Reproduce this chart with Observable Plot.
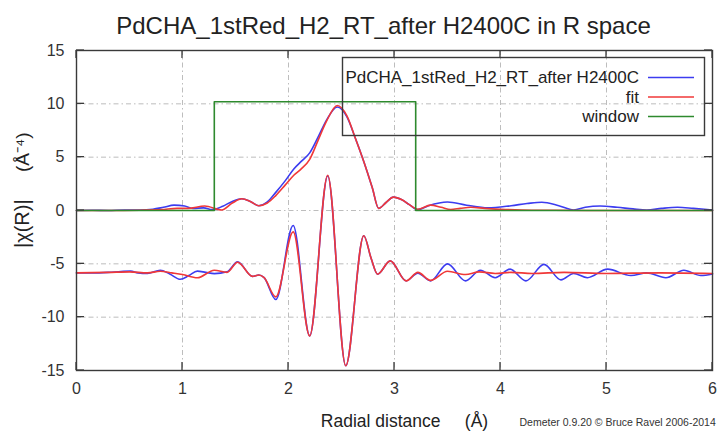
<!DOCTYPE html>
<html><head><meta charset="utf-8">
<script src="https://cdn.jsdelivr.net/npm/d3@7"></script>
<script src="https://cdn.jsdelivr.net/npm/@observablehq/plot@0.6"></script>
<style>
html,body{margin:0;padding:0;background:#fff;}
svg text{white-space:pre;}
</style></head><body><div id="chart"></div>
<script>
const title = "PdCHA_1stRed_H2_RT_after H2400C in R space";
const xLabel = "Radial distance     (Å)";
const yLabelMain = "|χ(R)|";
const yLabelUnit = "(Å⁻⁴)";
const footer = "Demeter 0.9.20 © Bruce Ravel 2006-2014";
const seriesNames = ["PdCHA_1stRed_H2_RT_after H2400C", "fit", "window"];
const seriesColors = ["#3c3cf0", "#f03838", "#2e8a2e"];
const xTicks = [0, 1, 2, 3, 4, 5, 6];
const yTicks = [-15, -10, -5, 0, 5, 10, 15];

// |chi(R)| of the data (blue, upper)
const rMagData = [0, 0.15, 0.3, 0.45, 0.6, 0.72, 0.82, 0.92, 1.02, 1.1, 1.2, 1.28, 1.38, 1.47, 1.56, 1.64, 1.72, 1.8, 1.88, 1.97, 2.05, 2.12, 2.2, 2.28, 2.36, 2.46, 2.55, 2.63, 2.71, 2.79, 2.85, 2.92, 2.99, 3.07, 3.14, 3.22, 3.32, 3.5, 3.68, 3.88, 4.1, 4.25, 4.39, 4.55, 4.69, 4.8, 4.94, 5.1, 5.25, 5.38, 5.52, 5.67, 5.82, 6.0];
const chiMagData = [0, 0.02, 0.0, 0.05, 0.05, 0.12, 0.3, 0.5, 0.42, 0.2, 0.25, 0.08, 0.4, 0.85, 1.1, 0.85, 0.45, 0.8, 1.7, 2.8, 3.9, 4.6, 5.4, 6.9, 8.5, 9.7, 8.8, 6.8, 4.6, 2.15, 0.2, 0.75, 1.25, 1.0, 0.55, 0.08, 0.45, 0.8, 0.5, 0.25, 0.45, 0.65, 0.78, 0.45, 0.05, 0.3, 0.42, 0.3, 0.15, 0.05, 0.2, 0.3, 0.2, 0.05];

// |chi(R)| of the fit (red, upper)
const rMagFit = [0, 0.3, 0.6, 0.8, 0.95, 1.05, 1.21, 1.37, 1.47, 1.56, 1.64, 1.72, 1.8, 1.88, 1.97, 2.05, 2.12, 2.2, 2.28, 2.36, 2.46, 2.55, 2.63, 2.71, 2.79, 2.85, 2.92, 2.99, 3.07, 3.14, 3.22, 3.34, 3.44, 3.53, 3.62, 3.72, 3.85, 4.0, 4.2, 4.5, 5.0, 6.0];
const chiMagFit = [0, 0.0, 0.03, 0.08, 0.2, 0.2, 0.42, 0.05, 0.7, 1.1, 0.85, 0.45, 0.7, 1.4, 2.4, 3.3, 3.9, 4.8, 6.6, 8.4, 9.85, 8.9, 6.8, 4.6, 2.15, 0.2, 0.75, 1.25, 1.0, 0.55, 0.12, 0.5, 0.3, 0.1, 0.2, 0.3, 0.2, 0.12, 0.05, 0.02, 0, 0];

// Fourier transform window (green)
const rWindow = [0, 1.3, 1.3, 3.2, 3.2, 6.0];
const window_ = [0, 0, 10.2, 10.2, 0, 0];

// Re[chi(R)] of the data, shifted (blue, lower)
const rReData = [0, 0.15, 0.3, 0.42, 0.51, 0.58, 0.67, 0.79, 0.88, 0.98, 1.06, 1.14, 1.22, 1.3, 1.42, 1.52, 1.66, 1.72, 1.77, 1.88, 2.044, 2.2, 2.37, 2.54, 2.71, 2.78, 2.84, 2.96, 3.11, 3.22, 3.34, 3.5, 3.67, 3.81, 3.95, 4.09, 4.24, 4.41, 4.57, 4.69, 4.82, 5.01, 5.23, 5.38, 5.56, 5.73, 5.89, 6.0];
const chiReData = [-5.85, -5.85, -5.8, -5.72, -5.68, -5.85, -5.9, -5.6, -5.95, -6.45, -6.1, -5.68, -5.8, -5.92, -5.75, -4.82, -6.18, -6.05, -6.3, -8.35, -1.4, -11.75, 3.25, -14.55, -2.37, -4.5, -5.97, -4.72, -6.6, -5.87, -6.6, -5.0, -6.6, -5.6, -6.3, -5.5, -6.6, -5.05, -6.5, -5.9, -6.3, -5.5, -6.1, -5.85, -6.3, -5.6, -6.1, -5.95];

// Re[chi(R)] of the fit, shifted (red, lower)
const rReFit = [0, 0.3, 0.5, 0.67, 0.79, 0.9, 1.0, 1.14, 1.3, 1.42, 1.52, 1.66, 1.72, 1.77, 1.88, 2.044, 2.2, 2.37, 2.54, 2.71, 2.78, 2.84, 2.96, 3.11, 3.22, 3.34, 3.5, 3.67, 3.8, 3.95, 4.1, 4.3, 4.6, 5.0, 5.5, 6.0];
const chiReFit = [-5.85, -5.8, -5.75, -5.85, -5.7, -5.85, -6.0, -6.3, -5.6, -5.8, -4.85, -6.18, -6.05, -6.3, -8.1, -2.0, -11.75, 3.3, -14.55, -2.37, -4.5, -5.97, -4.72, -6.6, -5.8, -6.55, -5.7, -6.0, -5.75, -5.9, -5.8, -5.9, -5.8, -5.9, -5.85, -5.9];

const toRows = (rs, vs) => rs.map((r, i) => ({r, v: vs[i]}));
const magData = toRows(rMagData, chiMagData);
const magFit = toRows(rMagFit, chiMagFit);
const win = toRows(rWindow, window_);
const reData = toRows(rReData, chiReData);
const reFit = toRows(rReFit, chiReFit);

const W = 722, H = 433, mT = 50, mB = 63, mL = 76, mR = 10;
const tickLen = 8;
const frameColor = "#3a3a3a";
const gridStyle = {stroke: "#bdbdbd", strokeOpacity: 1, strokeWidth: 1, strokeDasharray: "5,3,1.5,3"};
const lineW = 1.6;
const fmt = d => String(d);

const chart = Plot.plot({
  width: W, height: H,
  marginTop: mT, marginBottom: mB, marginLeft: mL, marginRight: mR,
  x: {domain: [0, 6], label: null},
  y: {domain: [-15, 15], label: null},
  style: {fontFamily: "'Liberation Sans', Arial, sans-serif", background: "#fff", overflow: "visible", color: "#333"},
  marks: [
    Plot.gridX(xTicks.slice(1, -1), gridStyle),
    Plot.gridY(yTicks.slice(1, -1), gridStyle),
    Plot.line(magData, {x: "r", y: "v", stroke: seriesColors[0], strokeWidth: lineW, curve: "monotone-x"}),
    Plot.line(magFit, {x: "r", y: "v", stroke: seriesColors[1], strokeWidth: lineW, curve: "monotone-x"}),
    Plot.line(win, {x: "r", y: "v", stroke: seriesColors[2], strokeWidth: lineW}),
    Plot.line(reData, {x: "r", y: "v", stroke: seriesColors[0], strokeWidth: lineW, curve: "monotone-x"}),
    Plot.line(reFit, {x: "r", y: "v", stroke: seriesColors[1], strokeWidth: lineW, curve: "monotone-x"}),
    Plot.frame({stroke: frameColor, strokeWidth: 1.4}),
    Plot.axisX(xTicks, {anchor: "bottom", tickSize: 0, tickPadding: 12, tickFormat: fmt, fontSize: 16, fill: "#333", label: null}),
    Plot.axisY(yTicks, {anchor: "left", tickSize: 0, tickPadding: 12, tickFormat: fmt, fontSize: 16, fill: "#333", label: null}),
    Plot.text([title], {text: d => d, frameAnchor: "top", dx: -11, dy: -24, fontSize: 24, fill: "#222", lineAnchor: "middle"}),
    Plot.text([xLabel], {text: d => d, frameAnchor: "bottom", dx: 10, dy: 51, fontSize: 17.5, fill: "#222", lineAnchor: "middle"}),
    Plot.text([yLabelMain], {text: d => d, frameAnchor: "left", dx: -54, dy: 37.5, rotate: -90, fontSize: 20, fill: "#222", lineAnchor: "middle"}),
    Plot.text([yLabelUnit], {text: d => d, frameAnchor: "left", dx: -54, dy: -38.5, rotate: -90, fontSize: 19, fill: "#222", lineAnchor: "middle"}),
    Plot.text([footer], {text: d => d, frameAnchor: "bottom", textAnchor: "start", dx: 125, dy: 52, fontSize: 10.5, fill: "#333", lineAnchor: "middle"})
  ]
});

const svg = d3.select(chart);

// inward ticks on all four sides (gnuplot "mirror"), placed with Plot's own scales
const sx = chart.scale("x"), sy = chart.scale("y");
const x0 = mL, x1 = W - mR, y0 = mT, y1 = H - mB;
const ticks = svg.append("g").attr("stroke", frameColor).attr("stroke-width", 1.3);
xTicks.forEach(t => {
  const px = sx.apply(t);
  ticks.append("line").attr("x1", px).attr("x2", px).attr("y1", y1).attr("y2", y1 - tickLen);
  ticks.append("line").attr("x1", px).attr("x2", px).attr("y1", y0).attr("y2", y0 + tickLen);
});
yTicks.forEach(t => {
  const py = sy.apply(t);
  ticks.append("line").attr("y1", py).attr("y2", py).attr("x1", x0).attr("x2", x0 + tickLen);
  ticks.append("line").attr("y1", py).attr("y2", py).attr("x1", x1).attr("x2", x1 - tickLen);
});

// legend (gnuplot-style key box)
const key = svg.append("g").attr("font-family", "'Liberation Sans', Arial, sans-serif").attr("font-size", 17);
key.append("rect").attr("x", 342.5).attr("y", 57.5).attr("width", 362).attr("height", 78)
  .attr("fill", "none").attr("stroke", frameColor).attr("stroke-width", 1.4);
const rowY = [77.5, 97, 116.5];
seriesNames.forEach((name, i) => {
  key.append("text").attr("x", 639).attr("y", rowY[i]).attr("dy", "0.35em")
    .attr("text-anchor", "end").attr("fill", "#222").text(name);
  key.append("line").attr("x1", 648).attr("x2", 694).attr("y1", rowY[i]).attr("y2", rowY[i])
    .attr("stroke", seriesColors[i]).attr("stroke-width", lineW);
});

document.getElementById("chart").appendChild(chart);
</script></body></html>
